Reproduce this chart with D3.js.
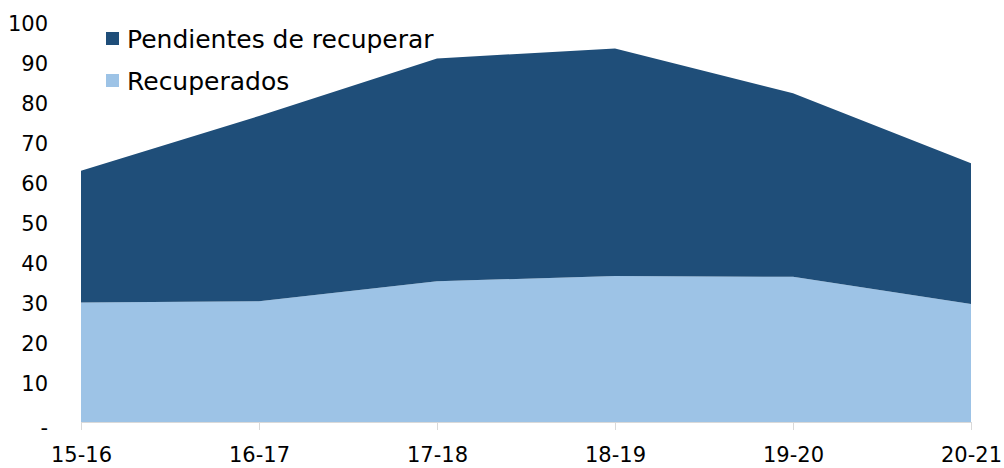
<!DOCTYPE html>
<html>
<head>
<meta charset="utf-8">
<script src="https://cdn.jsdelivr.net/npm/d3@7"></script>
<style>
  body { margin: 0; background: #fff; }
  svg text { font-family: "Century Gothic", "DejaVu Sans", sans-serif; fill: #000; }
</style>
</head>
<body>
<svg class="chart_svg" width="1004" height="468"></svg>
<script>
// chart data
const seasons = ["15-16", "16-17", "17-18", "18-19", "19-20", "20-21"];
const recuperados = [29.9, 30.2, 35.2, 36.5, 36.3, 29.5];
const pendientes = [32.9, 46.3, 55.7, 56.9, 45.9, 35.2];
const yTicks = [0, 10, 20, 30, 40, 50, 60, 70, 80, 90, 100];
const seriesNames = ["Pendientes de recuperar", "Recuperados"];

const colors = { Recuperados: "#9DC3E6", Pendientes: "#1F4E79" };

var margin = {top: 22, right: 33, bottom: 46, left: 81},
    w = 1004 - margin.left - margin.right,
    h = 468 - margin.top - margin.bottom;

var svg = d3.select(".chart_svg");
var g = svg.append("g").attr("transform", `translate(${margin.left}, ${margin.top})`);

const rows = seasons.map((s, i) => ({season: s, Recuperados: recuperados[i], Pendientes: pendientes[i]}));
const stack = d3.stack().keys(["Recuperados", "Pendientes"])(rows);

const x = d3.scalePoint().domain(seasons).range([0, w]);
const y = d3.scaleLinear().domain([0, 100]).range([h, 0]);

const area = d3.area()
  .x(d => x(d.data.season))
  .y0(d => y(d[0]))
  .y1(d => y(d[1]));

g.selectAll(".layer")
  .data(stack)
  .join("path")
  .attr("class", "layer")
  .attr("d", area)
  .attr("fill", d => colors[d.key]);

// x axis
const xAxis = g.append("g")
  .attr("transform", `translate(0, ${h})`)
  .call(d3.axisBottom(x).tickSize(8).tickPadding(17));
xAxis.select(".domain").attr("stroke", "#D9D9D9");
xAxis.selectAll(".tick line").attr("stroke", "#D9D9D9");
xAxis.selectAll("text").style("font-size", "21px");

// y axis (labels only)
const yAxis = g.append("g")
  .call(d3.axisLeft(y).tickValues(yTicks).tickSize(0).tickPadding(33)
    .tickFormat(d => d === 0 ? "-" : d));
yAxis.select(".domain").remove();
yAxis.selectAll("text").style("font-size", "21px").attr("dy", "0.42em");
yAxis.selectAll(".tick").filter(d => d === 0).select("text").attr("dy", "0.6em");

// legend
const legendColors = [colors.Pendientes, colors.Recuperados];
const legend = svg.append("g").attr("transform", "translate(106, 32)");
const item = legend.selectAll("g")
  .data(seriesNames)
  .join("g")
  .attr("transform", (d, i) => `translate(0, ${i * 42})`);
item.append("rect")
  .attr("width", 13).attr("height", 13)
  .attr("fill", (d, i) => legendColors[i]);
item.append("text")
  .attr("x", 21).attr("y", 6.5).attr("dy", "0.36em")
  .style("font-size", "25px")
  .text(d => d);
</script>
</body>
</html>
